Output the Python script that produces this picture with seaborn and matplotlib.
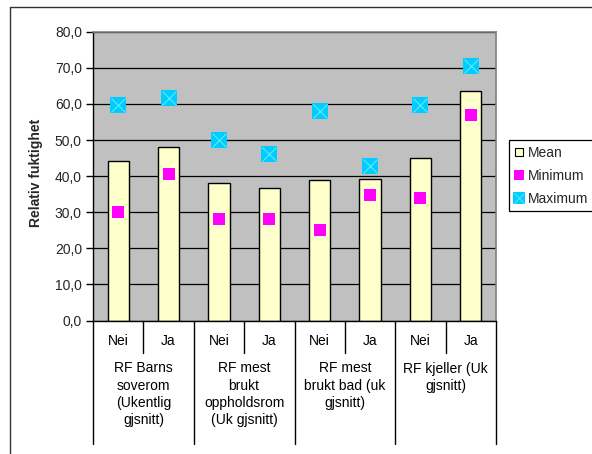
import numpy as np
import pandas as pd
import seaborn as sns
import matplotlib.pyplot as plt
import matplotlib.transforms as mtransforms
from matplotlib.lines import Line2D

groups = ["RF Barns\nsoverom\n(Ukentlig\ngjsnitt)",
          "RF mest\nbrukt\noppholdsrom\n(Uk gjsnitt)",
          "RF mest\nbrukt bad (uk\ngjsnitt)",
          "RF kjeller (Uk\ngjsnitt)"]
answers = ["Nei", "Ja"]
mean_vals = [44.3, 48.0, 38.2, 36.8, 38.8, 39.1, 44.9, 63.6]
min_vals = [30.1, 40.6, 28.2, 28.2, 25.0, 34.7, 34.0, 56.8]
max_vals = [59.7, 61.7, 50.0, 46.1, 58.0, 42.8, 59.8, 70.5]
y_ticks = [0, 10, 20, 30, 40, 50, 60, 70, 80]

slots = [f"{g}|{a}" for g in groups for a in answers]
df = pd.DataFrame({"slot": slots, "mean": mean_vals, "min": min_vals, "max": max_vals})

sns.set_theme(style="white")
plt.rcParams["font.family"] = ["Liberation Sans", "DejaVu Sans"]
fs = 10

fig = plt.figure(figsize=(5.92, 4.54), dpi=100)
W, H = 592, 454
ax = fig.add_axes([93 / W, 1 - 320.5 / H, 403 / W, 288.8 / H])
ax.set_facecolor("#C0C0C0")

sns.barplot(data=df, x="slot", y="mean", order=slots, color="#FFFFCC",
            saturation=1, width=0.42, edgecolor="black", linewidth=1, ax=ax)
sns.stripplot(data=df, x="slot", y="min", order=slots, jitter=False, marker="s",
              size=8.4, color="#FF00FF", linewidth=0, ax=ax, zorder=4)
sns.stripplot(data=df, x="slot", y="max", order=slots, jitter=False, marker="s",
              size=11, color="#00CCFF", linewidth=0, ax=ax, zorder=4)
sns.stripplot(data=df, x="slot", y="max", order=slots, jitter=False, marker="x",
              size=10, color="#5CEBFF", linewidth=0.8, ax=ax, zorder=5)

ax.set_xlim(-0.5, len(slots) - 0.5)
ax.set_ylim(0, 80)
ax.set_yticks(y_ticks)
ax.set_yticklabels([f"{v:.1f}".replace(".", ",") for v in y_ticks], fontsize=fs)
ax.tick_params(axis="y", direction="out", length=5, width=1, color="black", pad=3, left=True)
ax.set_xticks([])
ax.set_xlabel("")
ax.set_ylabel("Relativ fuktighet", fontsize=fs, fontweight="bold")
ax.yaxis.set_label_coords(-0.125, 0.51)
ax.yaxis.grid(True, color="black", linewidth=0.9)
ax.set_axisbelow(True)
for side in ["left", "bottom"]:
    ax.spines[side].set_color("black")
    ax.spines[side].set_linewidth(1)
for side in ["top", "right"]:
    ax.spines[side].set_color("#808080")
    ax.spines[side].set_linewidth(1.2)

# hierarchical category labels
tr = mtransforms.blended_transform_factory(ax.transData, fig.transFigure)
for i, s in enumerate(slots):
    ax.text(i, 1 - 341 / H, s.split("|")[1], transform=tr, ha="center", va="center",
            fontsize=fs, color="black")
for gi, g in enumerate(groups):
    ax.text(gi * 2 + 0.5, 1 - 361.5 / H, g, transform=tr, ha="center", va="top",
            fontsize=fs, color="black", linespacing=1.3)
for k in range(len(slots) + 1):
    x = k - 0.5
    y_end = 444 if k % 2 == 0 else 353
    ax.add_line(Line2D([x, x], [1 - 320.5 / H, 1 - y_end / H], transform=tr,
                       color="black", linewidth=1, clip_on=False))

# legend
h_mean = Line2D([], [], marker="s", linestyle="none", markersize=6,
                markerfacecolor="#FFFFCC", markeredgecolor="black", markeredgewidth=0.8)
h_min = Line2D([], [], marker="s", linestyle="none", markersize=7.5,
               markerfacecolor="#FF00FF", markeredgewidth=0)
h_max_sq = Line2D([], [], marker="s", linestyle="none", markersize=8,
                  markerfacecolor="#00CCFF", markeredgewidth=0)
h_max_x = Line2D([], [], marker="x", linestyle="none", markersize=7,
                 color="#5CEBFF", markeredgewidth=0.7)
leg = fig.legend([h_mean, h_min, (h_max_sq, h_max_x)], ["Mean", "Minimum", "Maximum"],
                 loc="upper left", bbox_to_anchor=(509 / W, 1 - 140 / H),
                 fontsize=fs, frameon=True, fancybox=False, framealpha=1,
                 edgecolor="black", handlelength=0.7, handletextpad=0.25,
                 labelspacing=0.65, borderpad=0.4, borderaxespad=0)
leg.get_frame().set_linewidth(0.9)

# outer chart frame
fig.add_artist(Line2D([10 / W, 10 / W], [0, 1 - 7 / H], transform=fig.transFigure,
                      color="#333333", linewidth=1))
fig.add_artist(Line2D([10 / W, 1], [1 - 7 / H, 1 - 7 / H], transform=fig.transFigure,
                      color="#333333", linewidth=1))

plt.savefig("out.png", dpi=100)
